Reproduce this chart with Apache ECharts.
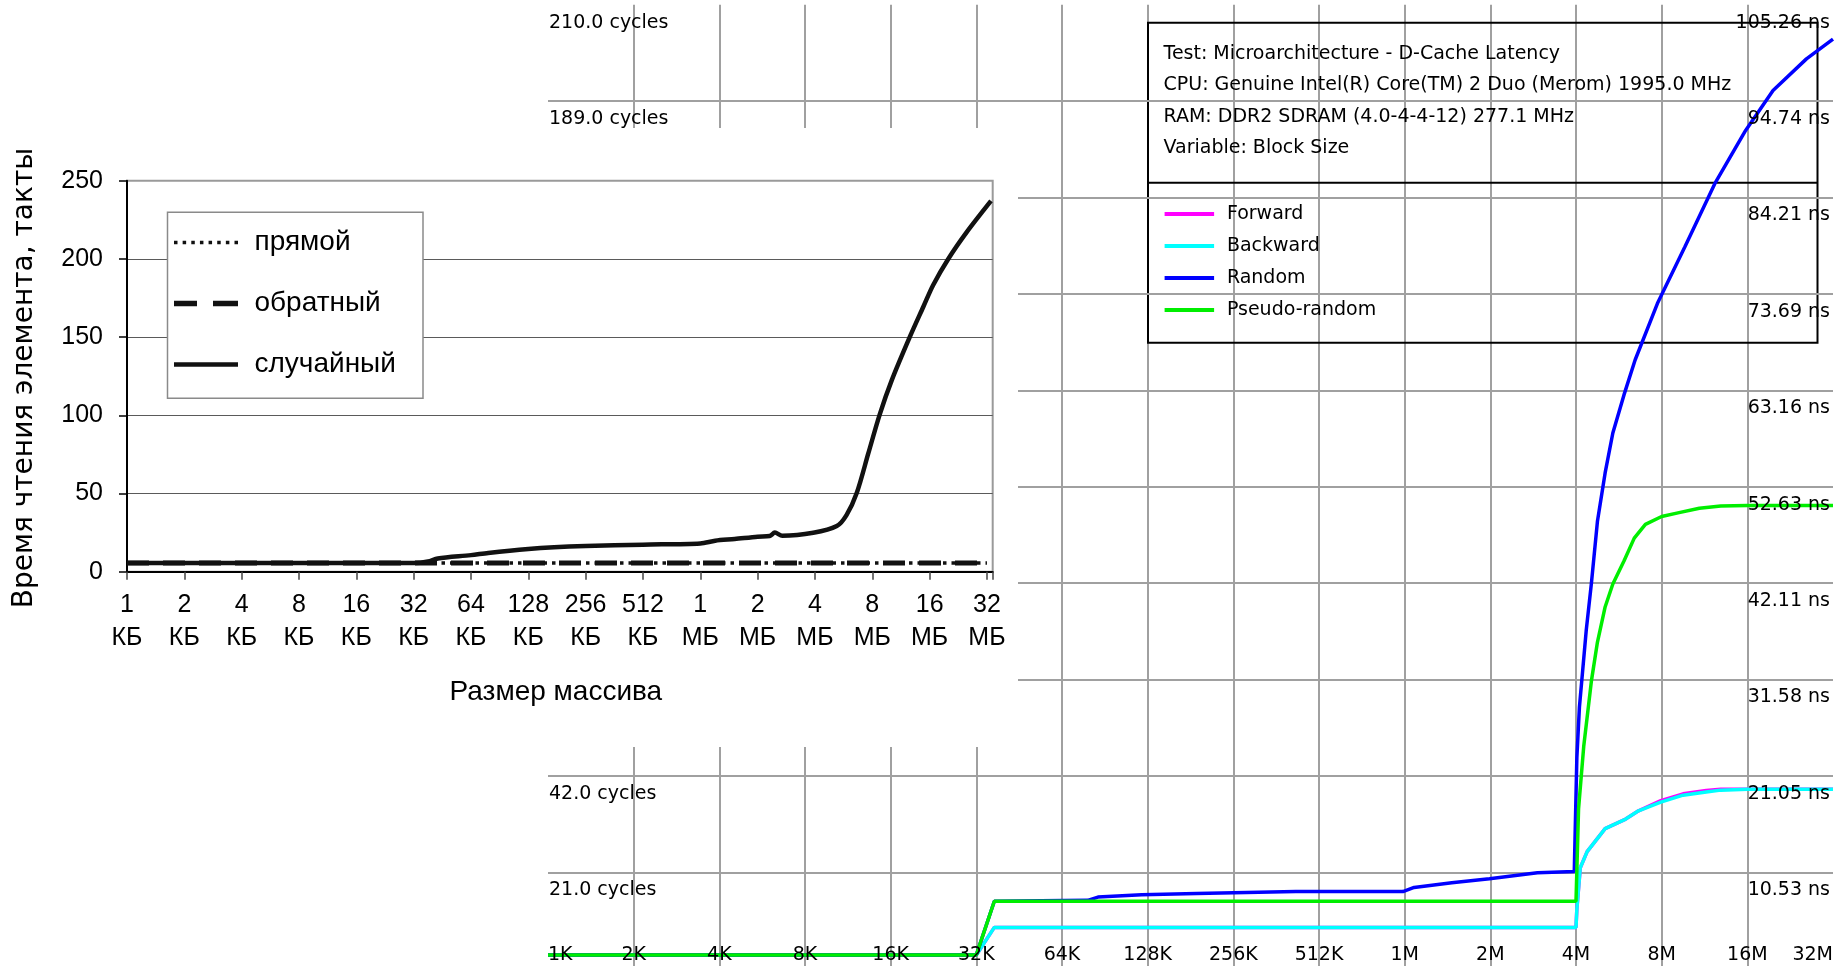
<!DOCTYPE html>
<html>
<head>
<meta charset="utf-8">
<script src="https://cdn.jsdelivr.net/npm/echarts@6/dist/echarts.min.js"></script>
<style>
  html, body { margin: 0; padding: 0; background: #fff; }
  #chart { width: 1844px; height: 966px; }
</style>
</head>
<body>
<div id="chart"></div>
<script>
// ---------- Everest D-Cache latency plot (log2 block size, 1K = step 0) ----------
const blockSizeLabels = ['1K', '2K', '4K', '8K', '16K', '32K', '64K', '128K', '256K', '512K', '1M', '2M', '4M', '8M', '16M', '32M'];
const cycleLabels = ['', '21.0 cycles', '42.0 cycles', '63.0 cycles', '84.0 cycles', '105.0 cycles',
  '126.0 cycles', '147.0 cycles', '168.0 cycles', '189.0 cycles', '210.0 cycles'];
const nsLabels = ['', '10.53 ns', '21.05 ns', '31.58 ns', '42.11 ns', '52.63 ns',
  '63.16 ns', '73.69 ns', '84.21 ns', '94.74 ns', '105.26 ns'];
const infoLines = [
  'Test: Microarchitecture - D-Cache Latency',
  'CPU: Genuine Intel(R) Core(TM) 2 Duo (Merom) 1995.0 MHz',
  'RAM: DDR2 SDRAM (4.0-4-4-12) 277.1 MHz',
  'Variable: Block Size'
];

const forwardSteps = [0, 5, 5.21, 12, 12.01, 12.05, 12.13, 12.34, 12.58, 12.73, 12.99, 13.25, 13.52, 13.69, 14, 15];
const forwardCycles = [3, 3, 9, 9, 13, 22, 25.5, 30.5, 32.6, 34.4, 36.6, 38.1, 38.8, 39.1, 39.1, 39.1];
const backwardSteps = [0, 5, 5.21, 12, 12.01, 12.05, 12.13, 12.34, 12.58, 12.73, 12.99, 13.25, 13.52, 13.69, 14, 15];
const backwardCycles = [3, 3, 9, 9, 13, 22, 25.5, 30.5, 32.6, 34.4, 36.3, 37.8, 38.5, 38.9, 39.1, 39.1];
const randomSteps = [0, 5, 5.21, 6.3, 6.42, 6.93, 7.57, 8.73, 9.98, 10.11, 10.55, 10.99, 11.55, 11.98, 12.01,
  12.04, 12.12, 12.18, 12.25, 12.34, 12.43, 12.56, 12.69, 12.95, 13.27, 13.62, 13.98, 14.3, 14.69, 15];
const randomCycles = [3, 3, 14.7, 14.9, 15.6, 16.1, 16.4, 16.8, 16.8, 17.7, 18.7, 19.6, 20.9, 21.2, 46,
  57, 73.8, 84, 97.4, 108, 116.7, 125, 132.6, 144.9, 157.2, 171, 182.6, 191.3, 198.2, 202.5];
const pseudoSteps = [0, 5, 5.21, 12, 12.03, 12.09, 12.18, 12.25, 12.34, 12.43, 12.56, 12.68, 12.81, 13.0, 13.19, 13.44, 13.69, 14, 15];
const pseudoCycles = [3, 3, 14.7, 14.7, 34.9, 48.4, 62.7, 71.1, 78.8, 83.8, 88.8, 93.8, 96.8, 98.5, 99.3, 100.3, 100.8, 100.9, 100.9];

// ---------- Russian inset: element read time vs array size ----------
const arrayNumLabels = ['1', '2', '4', '8', '16', '32', '64', '128', '256', '512', '1', '2', '4', '8', '16', '32'];
const arrayUnitLabels = ['КБ', 'КБ', 'КБ', 'КБ', 'КБ', 'КБ', 'КБ', 'КБ', 'КБ', 'КБ', 'МБ', 'МБ', 'МБ', 'МБ', 'МБ', 'МБ'];
const insetSteps = [0, 1, 2, 3, 4, 5, 6, 7, 8, 9, 10, 11, 12, 13, 14, 15];
const directTicks = [5.5, 5.5, 5.5, 5.5, 5.5, 5.5, 5.5, 5.5, 5.5, 5.5, 5.5, 5.5, 5.5, 5.5, 5.5, 5.5];
const reverseTicks = [5.5, 5.5, 5.5, 5.5, 5.5, 5.5, 5.5, 5.5, 5.5, 5.5, 5.5, 5.5, 5.5, 5.5, 5.5, 5.5];
const randomInsetSteps = [0, 1, 2, 3, 4, 5, 5.25, 5.42, 6, 6.3, 7, 7.45, 8, 9, 10, 10.26, 10.6, 11, 11.21, 11.3,
  11.43, 11.97, 12.38, 12.55, 12.73, 12.93, 13.13, 13.34, 13.66, 13.89, 14.06, 14.33, 14.65, 15.07];
const randomInsetTicks = [5.5, 5.5, 5.5, 5.5, 5.5, 5.5, 6.5, 8.5, 10.6, 12, 14.5, 15.6, 16.4, 17.3, 18.1, 19.8, 20.9, 22.4, 22.8, 25,
  23, 24.9, 29.2, 36.2, 50.5, 75.6, 100.6, 122.5, 150.6, 169.4, 183.2, 200.3, 217.3, 237.1];

const zip = (xs, ys) => xs.map((x, i) => [x, ys[i]]);

const BG_FONT = 'DejaVu Sans';
const IN_FONT = 'Liberation Sans';
const gridGray = '#a0a0a0';

// legend icon shapes for the inset (drawn as filled paths, 64 units wide)
function dottedIcon() {
  let p = 'path://';
  for (let i = 0; i < 8; i++) {
    const x = (i * 60.5 / 7).toFixed(2);
    p += 'M' + x + ',0h3.5v3.5h-3.5z';
  }
  return p;
}
const dashedIcon = 'path://M0,0h23v5.5h-23zM39,0h25v5.5h-25z';
const solidIcon = 'path://M0,0h64v4.5h-64z';

const chart = echarts.init(document.getElementById('chart'), null, { renderer: 'canvas' });

const option = {
  animation: false,
  backgroundColor: '#ffffff',
  grid: [
    { left: 548, top: 4.7, width: 1285, height: 964, show: false, outerBoundsMode: 'none', containLabel: false },
    { left: 127, top: 180.7, width: 865.7, height: 391, show: true, z: 10, outerBoundsMode: 'none', containLabel: false,
      backgroundColor: 'transparent', borderColor: '#9a9a9a', borderWidth: 2 }
  ],
  xAxis: [
    { gridIndex: 0, type: 'value', min: 0, max: 15, interval: 1, z: 0,
      axisLine: { show: false }, axisTick: { show: false }, axisLabel: { show: false },
      splitLine: { show: true, showMinLine: false, showMaxLine: false, lineStyle: { color: gridGray, width: 2 } } },
    { gridIndex: 0, type: 'value', min: 0, max: 15, interval: 1, position: 'bottom', z: 5,
      axisLine: { show: false }, axisTick: { show: false }, splitLine: { show: false },
      axisLabel: { inside: true, margin: 14, verticalAlign: 'middle', color: '#000',
        fontFamily: BG_FONT, fontSize: 19, alignMinLabel: 'left', alignMaxLabel: 'right',
        formatter: v => blockSizeLabels[Math.round(v)] } },
    { gridIndex: 1, type: 'value', min: 0, max: 15.1, interval: 1, z: 12,
      axisLine: { show: true, onZero: false, lineStyle: { color: '#000', width: 2 } },
      axisTick: { show: true, length: 8, lineStyle: { color: '#444', width: 1.5 } },
      splitLine: { show: false },
      axisLabel: { margin: 17, color: '#000', fontFamily: IN_FONT, fontSize: 25, lineHeight: 33,
        showMaxLabel: true,
        formatter: v => {
          const k = Math.round(v);
          return Math.abs(v - k) < 1e-6 && k <= 15 ? arrayNumLabels[k] + '\n' + arrayUnitLabels[k] : '';
        } },
      name: 'Размер массива', nameLocation: 'middle', nameGap: 107,
      nameTextStyle: { color: '#000', fontFamily: IN_FONT, fontSize: 28, padding: [0, 8, 0, 0] } }
  ],
  yAxis: [
    { gridIndex: 0, type: 'value', min: 0, max: 210, interval: 21, position: 'left', z: 1,
      axisLine: { show: false }, axisTick: { show: false },
      splitLine: { show: true, showMinLine: false, showMaxLine: false, lineStyle: { color: gridGray, width: 2 } },
      axisLabel: { inside: true, margin: 1, verticalAlign: 'top', padding: [8, 0, 0, 0], lineHeight: 20,
        color: '#000', fontFamily: BG_FONT, fontSize: 19,
        formatter: v => cycleLabels[Math.round(v / 21)] } },
    { gridIndex: 0, type: 'value', min: 0, max: 210, interval: 21, position: 'right', z: 5,
      axisLine: { show: false }, axisTick: { show: false }, splitLine: { show: false },
      axisLabel: { inside: true, margin: 3, verticalAlign: 'top', padding: [8, 0, 0, 0], lineHeight: 20,
        color: '#000', fontFamily: BG_FONT, fontSize: 19,
        formatter: v => nsLabels[Math.round(v / 21)] } },
    { gridIndex: 1, type: 'value', min: 0, max: 250, interval: 50, z: 12,
      axisLine: { show: true, onZero: false, lineStyle: { color: '#000', width: 2 } },
      axisTick: { show: true, length: 8, lineStyle: { color: '#000', width: 1.5 } },
      splitLine: { show: true, showMinLine: false, showMaxLine: false, lineStyle: { color: '#5a5a5a', width: 1.2 } },
      axisLabel: { margin: 24, color: '#000', fontFamily: IN_FONT, fontSize: 25 } }
  ],
  legend: [
    { data: [
        { name: 'прямой', icon: dottedIcon() },
        { name: 'обратный', icon: dashedIcon },
        { name: 'случайный', icon: solidIcon }
      ],
      orient: 'vertical', left: 174, top: 227.5, padding: 0, itemWidth: 64, itemHeight: 6, itemGap: 31,
      symbolKeepAspect: true, selectedMode: false, z: 20,
      textStyle: { color: '#000', fontFamily: IN_FONT, fontSize: 28, lineHeight: 30, padding: [0, 0, 0, 11.5] } },
    { data: [
        { name: 'Forward', icon: 'rect' },
        { name: 'Backward', icon: 'rect' },
        { name: 'Random', icon: 'rect' },
        { name: 'Pseudo-random', icon: 'rect' }
      ],
      orient: 'vertical', left: 1164.6, top: 203, padding: 0, itemWidth: 49.5, itemHeight: 4, itemGap: 10,
      selectedMode: false, z: 5,
      textStyle: { color: '#000', fontFamily: BG_FONT, fontSize: 19, lineHeight: 22, padding: [0, 0, 0, 7.8] } }
  ],
  graphic: {
    elements: [
      // white panel carrying the inset chart
      { type: 'rect', z: 6, shape: { x: 0, y: 128, width: 1018, height: 619 },
        style: { fill: '#ffffff', stroke: null } },
      // inset legend frame
      { type: 'rect', z: 14, shape: { x: 167.5, y: 212.3, width: 255.5, height: 186 },
        style: { fill: '#ffffff', stroke: '#8a8a8a', lineWidth: 1.5 } },
      // inset y-axis title
      { type: 'text', z: 14, x: 25, y: 378, rotation: Math.PI / 2,
        style: { text: 'Время чтения элемента, такты', fill: '#000', fontFamily: 'DejaVu Sans', fontSize: 28,
          align: 'center', verticalAlign: 'middle' } },
      // test info box
      { type: 'rect', z: 1, shape: { x: 1148, y: 22.7, width: 669.5, height: 320 },
        style: { fill: null, stroke: '#000', lineWidth: 2 } },
      { type: 'line', z: 1, shape: { x1: 1148, y1: 182.7, x2: 1817.5, y2: 182.7 },
        style: { stroke: '#000', lineWidth: 2 } },
      ...infoLines.map((t, i) => ({
        type: 'text', z: 5, x: 1163.5, y: 54 + i * 31.5,
        style: { text: t, fill: '#000', fontFamily: BG_FONT, fontSize: 19, align: 'left', verticalAlign: 'middle' }
      }))
    ]
  },
  series: [
    { name: 'Forward', type: 'line', xAxisIndex: 0, yAxisIndex: 0, symbol: 'none', z: 2,
      color: '#ff00ff', lineStyle: { color: '#ff00ff', width: 3.5 }, data: zip(forwardSteps, forwardCycles) },
    { name: 'Backward', type: 'line', xAxisIndex: 0, yAxisIndex: 0, symbol: 'none', z: 2,
      color: '#00ffff', lineStyle: { color: '#00ffff', width: 3.5 }, data: zip(backwardSteps, backwardCycles) },
    { name: 'Random', type: 'line', xAxisIndex: 0, yAxisIndex: 0, symbol: 'none', z: 2,
      color: '#0000ff', lineStyle: { color: '#0000ff', width: 3.5 }, data: zip(randomSteps, randomCycles) },
    { name: 'Pseudo-random', type: 'line', xAxisIndex: 0, yAxisIndex: 0, symbol: 'none', z: 2,
      color: '#00ee00', lineStyle: { color: '#00ee00', width: 3.5 }, data: zip(pseudoSteps, pseudoCycles) },

    { name: 'прямой', type: 'line', xAxisIndex: 2, yAxisIndex: 2, symbol: 'none', z: 13,
      color: '#111', lineStyle: { color: '#111', width: 3.5, type: [3.5, 5] }, data: zip(insetSteps, directTicks) },
    { name: 'обратный', type: 'line', xAxisIndex: 2, yAxisIndex: 2, symbol: 'none', z: 13,
      color: '#111', lineStyle: { color: '#111', width: 5, type: [22, 14] }, data: zip(insetSteps, reverseTicks) },
    { name: 'случайный', type: 'line', xAxisIndex: 2, yAxisIndex: 2, symbol: 'none', z: 13,
      smooth: 0.3,
      color: '#111', lineStyle: { color: '#111', width: 4.5 }, data: zip(randomInsetSteps, randomInsetTicks) }
  ]
};

chart.setOption(option);
</script>
</body>
</html>
